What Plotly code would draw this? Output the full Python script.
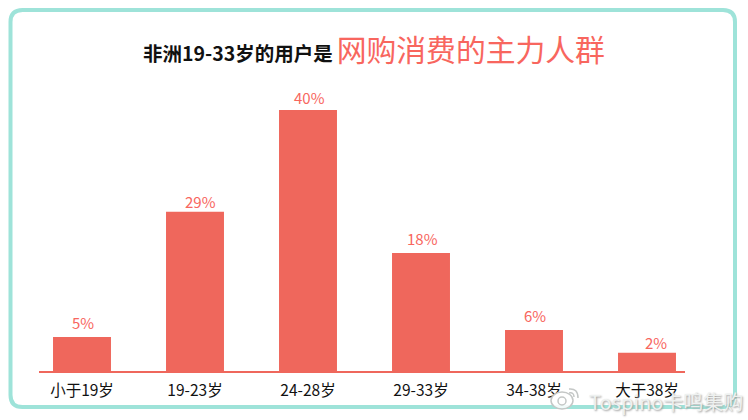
import plotly.graph_objects as go

categories = ["小于19岁", "19-23岁", "24-28岁", "29-33岁", "34-38岁", "大于38岁"]
# drawn bar heights (the original is not to scale with its labels)
bar_heights = [5.2, 24.4, 40, 18.1, 6.3, 2.8]
bar_labels = ["5%", "29%", "40%", "18%", "6%", "2%"]

FONT = "Noto Sans CJK SC"
RED = "#ef675c"
LABEL_RED = "#f8665e"
TEAL = "#9ee3d9"
W, H = 748, 420
# plot area in pixels
L, R, T, B = 39, 685, 84, 371

# two labels sit off-centre in the original
LABEL_NUDGE = {"29%": (5, -2), "2%": (9, -2), "40%": (1, 0)}


def px_x(x):
    return (x - L) / (R - L)


def px_y(y):
    return (B - y) / (B - T)


def frame_path(x0, y0, x1, y1, r):
    xa, xb, xc, xd = px_x(x0), px_x(x0 + r), px_x(x1 - r), px_x(x1)
    ya, yb, yc, yd = px_y(y0), px_y(y0 + r), px_y(y1 - r), px_y(y1)
    return (
        f"M{xb},{ya} L{xc},{ya} Q{xd},{ya} {xd},{yb} L{xd},{yc} Q{xd},{yd} {xc},{yd} "
        f"L{xb},{yd} Q{xa},{yd} {xa},{yc} L{xa},{yb} Q{xa},{ya} {xb},{ya} Z"
    )


fig = go.Figure(
    go.Bar(
        x=categories,
        y=bar_heights,
        width=0.513,
        marker={"color": RED, "line": {"width": 0}},
        cliponaxis=False,
        hoverinfo="skip",
    )
)

for cat, val, label in zip(categories, bar_heights, bar_labels):
    dx, dy = LABEL_NUDGE.get(label, (1, 2))
    fig.add_annotation(
        x=cat,
        y=val,
        text=label,
        showarrow=False,
        yanchor="bottom",
        xshift=dx,
        yshift=dy,
        font={"family": FONT, "size": 15, "color": LABEL_RED},
    )

fig.update_xaxes(
    type="category",
    range=[(L - 82) / 113, (R - 82) / 113],
    showline=True,
    linecolor=RED,
    linewidth=2,
    showgrid=False,
    ticks="outside",
    ticklen=4,
    tickcolor="rgba(0,0,0,0)",
    tickangle=0,
    tickfont={"family": FONT, "size": 15.5, "color": "#111111"},
    categoryorder="array",
    categoryarray=categories,
)
fig.update_yaxes(visible=False, range=[0, 44], showgrid=False, zeroline=False)

# teal rounded frame
fig.add_shape(
    type="path",
    xref="paper",
    yref="paper",
    path=frame_path(10.5, 10, 735, 407, 12),
    line={"color": TEAL, "width": 4},
    fillcolor="rgba(0,0,0,0)",
    layer="below",
)

# weibo watermark
fig.add_annotation(
    xref="paper",
    yref="paper",
    x=px_x(587),
    y=px_y(401),
    xanchor="left",
    yanchor="middle",
    showarrow=False,
    text="Tospino卡鸣集购",
    font={"family": FONT, "size": 20, "color": "#eef1f0", "shadow": "1px 1px 2px #9a9a9a"},
)
fig.add_shape(
    type="circle",
    xref="paper",
    yref="paper",
    x0=px_x(551),
    x1=px_x(573),
    y0=px_y(409),
    y1=px_y(392),
    line={"color": "#c4c7c6", "width": 1.5},
    fillcolor="rgba(255,255,255,0.85)",
)
fig.add_shape(
    type="circle",
    xref="paper",
    yref="paper",
    x0=px_x(558),
    x1=px_x(566),
    y0=px_y(405),
    y1=px_y(397),
    line={"color": "#c4c7c6", "width": 1.5},
)
for x_a, y_a, x_b, y_b, x_c, y_c in [(569, 389, 578, 388, 578, 398), (569, 393, 574, 392, 574, 397)]:
    fig.add_shape(
        type="path",
        xref="paper",
        yref="paper",
        path=f"M{px_x(x_a)},{px_y(y_a)} Q{px_x(x_b)},{px_y(y_b)} {px_x(x_c)},{px_y(y_c)}",
        line={"color": "#c4c7c6", "width": 1.5},
    )

fig.update_layout(
    width=W,
    height=H,
    autosize=False,
    margin={"l": L, "r": W - R, "t": T, "b": H - B, "pad": 0},
    paper_bgcolor="white",
    plot_bgcolor="white",
    showlegend=False,
    title={
        "text": (
            "<b>非洲19-33岁的用户是</b>\u2009"
            f"<span style='font-size:29.8px;color:{LABEL_RED}'>网购消费的主力人群</span>"
        ),
        "x": 374 / W,
        "xanchor": "center",
        "xref": "container",
        "y": 1 - 54 / H,
        "yanchor": "middle",
        "font": {"family": FONT, "size": 19.5, "color": "#111111"},
    },
)

# the page's default body margin would push the figure off the window
fig.write_html(
    "out.html",
    config={"displayModeBar": False},
    post_script="document.body.style.margin = '0';",
)
